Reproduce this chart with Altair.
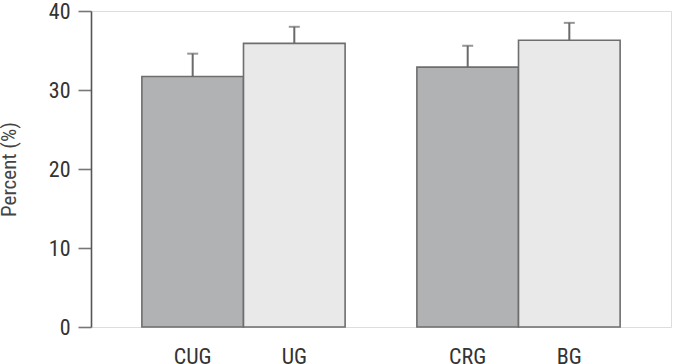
import altair as alt
import pandas as pd

categories = ["CUG", "UG", "CRG", "BG"]
groups = ["U", "U", "B", "B"]
kinds = ["Control", "Group", "Control", "Group"]
values = [31.7, 35.9, 32.9, 36.3]
errors = [2.9, 2.1, 2.7, 2.2]

df = pd.DataFrame({
    "cat": categories, "grp": groups, "kind": kinds,
    "val": values, "err": errors,
})
df["top"] = df["val"] + df["err"]

FONT = "Roboto Condensed, DejaVu Sans Condensed, Roboto, sans-serif"
W, H = 580, 316

xenc = alt.X("grp:N", sort=["U", "B"],
             scale=alt.Scale(paddingInner=0.261, paddingOuter=0.185),
             axis=None)
xoff = alt.XOffset("kind:N", sort=["Control", "Group"],
                   scale=alt.Scale(paddingInner=0, paddingOuter=0))
yscale = alt.Scale(domain=[0, 40], nice=False)

bars = alt.Chart(df).mark_bar(stroke="#6e6e6e", strokeWidth=1.6).encode(
    x=xenc, xOffset=xoff,
    y=alt.Y("val:Q", scale=yscale,
            axis=alt.Axis(values=[0, 10, 20, 30, 40], title="Percent (%)",
                          grid=False, tickSize=13, tickColor="#777",
                          tickWidth=1.6, domainColor="#555", domainWidth=1.6,
                          labelFont=FONT, labelFontSize=22, labelColor="#333",
                          labelPadding=8, titleFont=FONT, titleFontSize=21,
                          titleFontWeight="normal", titleColor="#444",
                          titleX=-82, titleY=158, titleAngle=270,
                          titleAlign="center", titleBaseline="middle")),
    color=alt.Color("kind:N", scale=alt.Scale(domain=["Control", "Group"],
                    range=["#b1b2b4", "#e9e9ea"]), legend=None),
)

rules = alt.Chart(df).mark_rule(color="#6a6a6a", strokeWidth=2).encode(
    x=xenc, xOffset=xoff, y=alt.Y("val:Q", scale=yscale), y2="top:Q")

caps = alt.Chart(df).mark_tick(color="#6a6a6a", thickness=2, size=11,
                               orient="horizontal").encode(
    x=xenc, xOffset=xoff, y=alt.Y("top:Q", scale=yscale))

labels = alt.Chart(df).mark_text(font=FONT, fontSize=22, color="#333",
                                 baseline="alphabetic").encode(
    x=xenc, xOffset=xoff, y=alt.value(H + 37), text="cat:N")

chart = alt.layer(bars, rules, caps, labels).properties(
    width=W, height=H,
    autosize=alt.AutoSizeParams(type="none"),
    padding={"left": 91, "top": 11, "right": 7, "bottom": 37},
).configure_view(stroke="#999", strokeWidth=1.6).configure(background="white")

chart.save("out.html", embed_options={"renderer": "svg", "actions": False})
